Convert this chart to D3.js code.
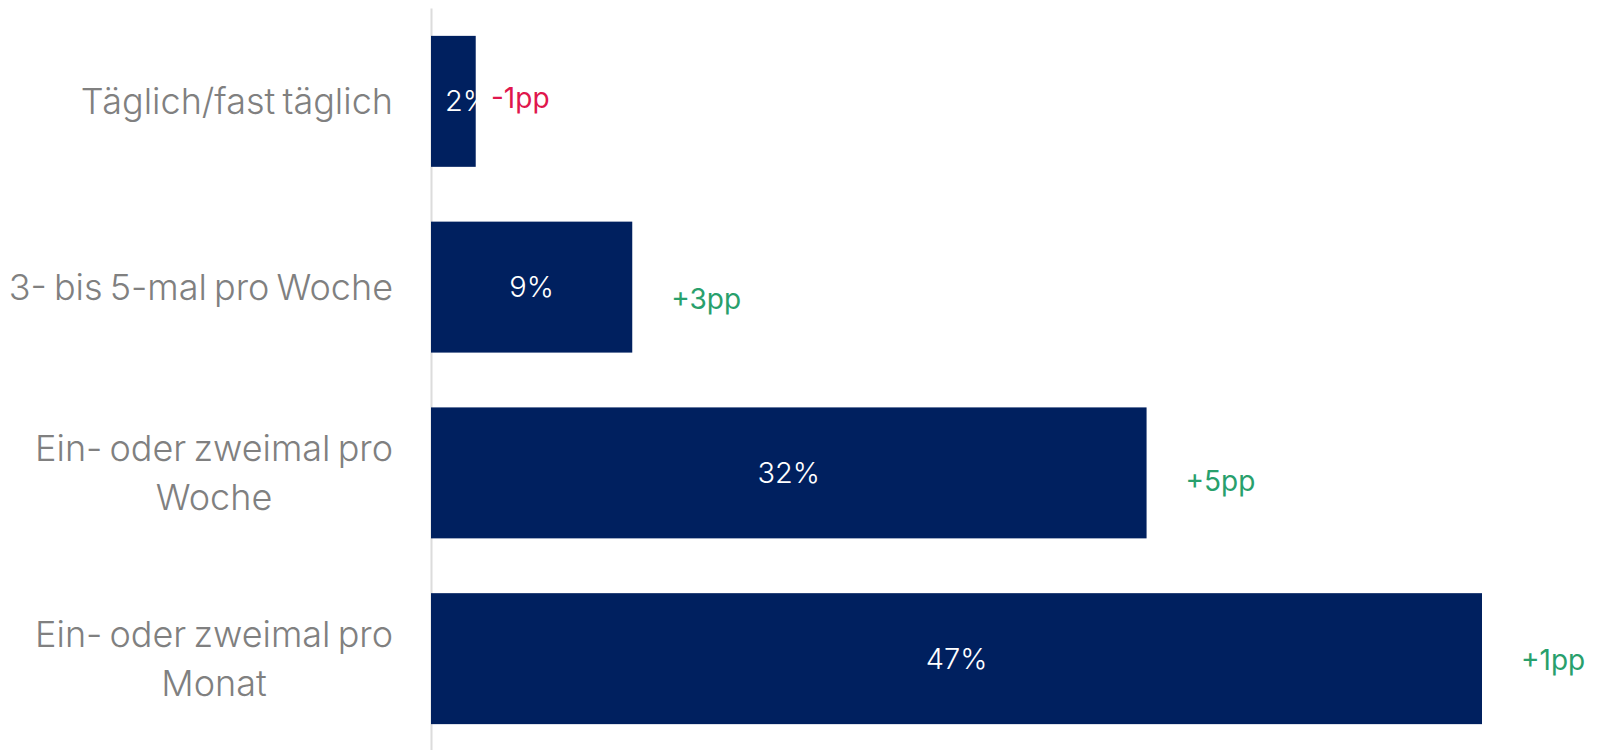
<!DOCTYPE html>
<html>
<head>
<meta charset="utf-8">
<script src="https://cdn.jsdelivr.net/npm/d3@7"></script>
<style>
  html, body { margin: 0; padding: 0; background: #ffffff; }
  svg { display: block; }
  text { font-family: Inter, "Noto Sans", sans-serif; font-weight: 300; }
</style>
</head>
<body>
<svg id="chart" width="1600" height="750"></svg>
<script>
// Frequency categories (line breaks mark wrapped labels)
const categories = [
  "Täglich/fast täglich",
  "3- bis 5-mal pro Woche",
  "Ein- oder zweimal pro\nWoche",
  "Ein- oder zweimal pro\nMonat"
];
// Share of respondents, in percent
const shares = [2, 9, 32, 47];
// Change versus previous wave, in percentage points
const changes = [-1, 3, 5, 1];

const BAR = "#00205f", AXIS = "#dcdcdc", CAT = "#808080";
const POS = "#28a06c", NEG = "#e0164d";
// vertical nudges of the change labels per row
const changeNudge = [-3, 12, 8, 2];

const svg = d3.select("#chart");
const rows = categories.map((c, i) => ({ cat: c, v: shares[i], d: changes[i], i }));

const x = d3.scaleLinear().domain([0, d3.max(shares)]).range([431, 1482]);
const y = d3.scaleBand().domain(categories).range([8, 752])
  .paddingInner(0.295).paddingOuter(0.15);

// bars
svg.append("g").selectAll("rect").data(rows).join("rect")
  .attr("x", x(0))
  .attr("y", d => y(d.cat))
  .attr("width", d => x(d.v) - x(0))
  .attr("height", y.bandwidth())
  .attr("fill", BAR);

// vertical category axis (line only), drawn on the bars' base
const axis = svg.append("g").attr("transform", `translate(${x(0)},0)`)
  .call(d3.axisLeft(y).tickSize(0).tickSizeOuter(0).tickFormat(""));
axis.select(".domain").attr("stroke", AXIS).attr("stroke-width", 2);
axis.lower();

// category labels, right-aligned block with centered lines
const labelRight = 393, lineGap = 49, maxLabel = 385;
rows.forEach(r => {
  const lines = r.cat.split("\n");
  const cy = y(r.cat) + y.bandwidth() / 2;
  const g = svg.append("g");
  const texts = lines.map((ln, k) => g.append("text")
    .attr("y", cy + (k - (lines.length - 1) / 2) * lineGap)
    .attr("dy", "0.35em")
    .attr("font-size", 36)
    .attr("word-spacing", -3)
    .attr("fill", CAT)
    .text(ln));
  texts.forEach(t => {
    if (t.node().getComputedTextLength() > maxLabel) t.attr("textLength", maxLabel);
  });
  const widths = texts.map(t => Math.min(maxLabel, t.node().getComputedTextLength()));
  const maxW = d3.max(widths);
  texts.forEach(t => t.attr("x", labelRight - maxW / 2).attr("text-anchor", "middle"));
});

// value labels and change labels
rows.forEach((r, k) => {
  const cy = y(r.cat) + y.bandwidth() / 2;
  const x0 = x(0), x1 = x(r.v);
  const val = svg.append("text")
    .attr("y", cy).attr("dy", "0.35em")
    .attr("font-size", 29).attr("fill", "#ffffff")
    .text(r.v + "%");
  const vw = val.node().getComputedTextLength();
  const narrow = (x1 - x0) < vw + 10;
  let dx;
  if (narrow) {
    val.attr("x", x0 + 14).attr("text-anchor", "start");
    dx = x0 + 14 + vw + 1;
  } else {
    val.attr("x", (x0 + x1) / 2).attr("text-anchor", "middle");
    dx = x1 + 39;
  }
  svg.append("text")
    .attr("x", dx)
    .attr("y", cy + changeNudge[k]).attr("dy", "0.35em")
    .attr("font-size", 28)
    .style("font-weight", 400)
    .attr("fill", r.d < 0 ? NEG : POS)
    .text((r.d < 0 ? "-" + Math.abs(r.d) : "+" + r.d) + "pp");
});
</script>
</body>
</html>
